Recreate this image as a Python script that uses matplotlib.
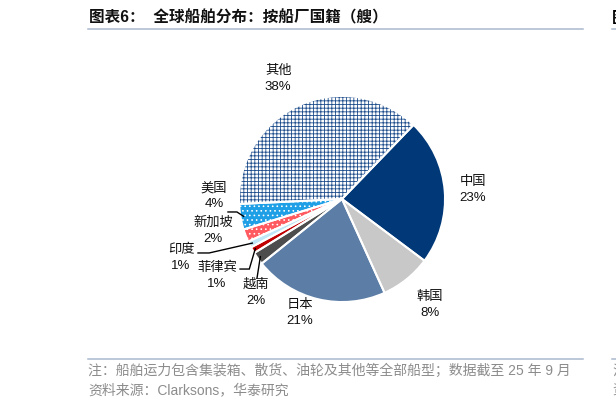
import matplotlib
matplotlib.use('agg')
import matplotlib.pyplot as plt
from matplotlib.lines import Line2D
import numpy as np

# данные диаграммы
names = ['中国', '韩国', '日本', '越南', '菲律宾', '印度', '新加坡', '美国', '其他']
shares = [23, 8, 21, 2, 1, 1, 2, 4, 38]
colors = ['#003878', '#C8C8C8', '#5B7DA6', '#4D4D4D', '#C00000',
          '#BFE6F6', '#FF5A5F', '#1E9FE6', '#FFFFFF']
title = '图表6：  全球船舶分布：按船厂国籍（艘）'
note = '注：船舶运力包含集装箱、散货、油轮及其他等全部船型；数据截至 25 年 9 月'
source = '资料来源：Clarksons，华泰研究'

# раскладка подписей (в единицах радиуса)
label_pos = {'中国': (1.27, 0.087), '韩国': (0.854, -1.03), '日本': (-0.41, -1.11),
             '越南': (-0.835, -0.908), '菲律宾': (-1.214, -0.748), '印度': (-1.563, -0.573),
             '新加坡': (-1.252, -0.31), '美国': (-1.243, 0.029), '其他': (-0.62, 1.165)}
leaders = {'越南': [(-0.825, -0.767)],
           '菲律宾': [(-0.90, -0.68), (-0.99, -0.68)],
           '印度': [(-1.29, -0.524), (-1.398, -0.524)],
           '美国': [(-1.02, -0.126), (-1.107, -0.126)]}
hatches = {'其他': ('+++++', '#1F4E8C'), '美国': ('....', 'white'), '新加坡': ('....', 'white')}

W, H, DPI = 616, 409, 110
plt.rcParams['font.family'] = ['Liberation Sans', 'Noto Sans CJK SC', 'DejaVu Sans']
plt.rcParams['hatch.linewidth'] = 0.55

fig = plt.figure(figsize=(W / DPI, H / DPI), dpi=DPI)
fig.patch.set_facecolor('white')

def fx(px):
    return px / W

def fy(py):
    return 1 - py / H

# оси круга: центр (342,199), радиус 103 px
cx, cy, r = 342, 199, 103
ax = fig.add_axes([fx(cx - r), fy(cy + r), 2 * r / W, 2 * r / H])

wedges, _ = ax.pie(shares, colors=colors, startangle=46, counterclock=False,
                   wedgeprops=dict(linewidth=0))
for w, n in zip(wedges, names):
    if n in hatches:
        h, c = hatches[n]
        w.set_hatch(h)
        w.set_edgecolor(c)
        w.set_linewidth(0)
# белые границы секторов
ax.pie(shares, startangle=46, counterclock=False,
       wedgeprops=dict(fill=False, edgecolor='white', linewidth=1.3))
ax.set_xlim(-1, 1)
ax.set_ylim(-1, 1)
ax.set_aspect('equal')
ax.axis('off')

# подписи и выноски
for w, n, v in zip(wedges, names, shares):
    x, y = label_pos[n]
    ax.text(x, y, '%s\n%d%%' % (n, v), ha='center', va='center', fontsize=8.7,
            linespacing=1.45, color='#111111')
    if n in leaders:
        mid = np.deg2rad((w.theta1 + w.theta2) / 2)
        pts = [(0.97 * np.cos(mid), 0.97 * np.sin(mid))] + leaders[n]
        xs, ys = zip(*pts)
        ax.plot(xs, ys, color='black', linewidth=0.9, clip_on=False, solid_joinstyle='miter')

# заголовок и сноски
fig.text(fx(89), fy(18), title, fontsize=10.2, fontweight='bold', ha='left', va='center',
         color='#111111')
fig.text(fx(612), fy(18), '图', fontsize=10.2, fontweight='bold', ha='left', va='center')
for y in (29, 359):
    fig.add_artist(Line2D([fx(88), fx(583)], [fy(y), fy(y)], color='#A9B9CD', linewidth=1.0))
    fig.add_artist(Line2D([fx(612), fx(616)], [fy(y), fy(y)], color='#A9B9CD', linewidth=1.0))
fig.text(fx(88), fy(371), note, fontsize=9.1, ha='left', va='center', color='#8C8C8C')
fig.text(fx(88), fy(390), source, fontsize=9.1, ha='left', va='center', color='#8C8C8C')
fig.text(fx(612), fy(371), '注', fontsize=9.1, ha='left', va='center', color='#8C8C8C')
fig.text(fx(612), fy(390), '资', fontsize=9.1, ha='left', va='center', color='#8C8C8C')

fig.savefig('out.png', dpi=DPI)
